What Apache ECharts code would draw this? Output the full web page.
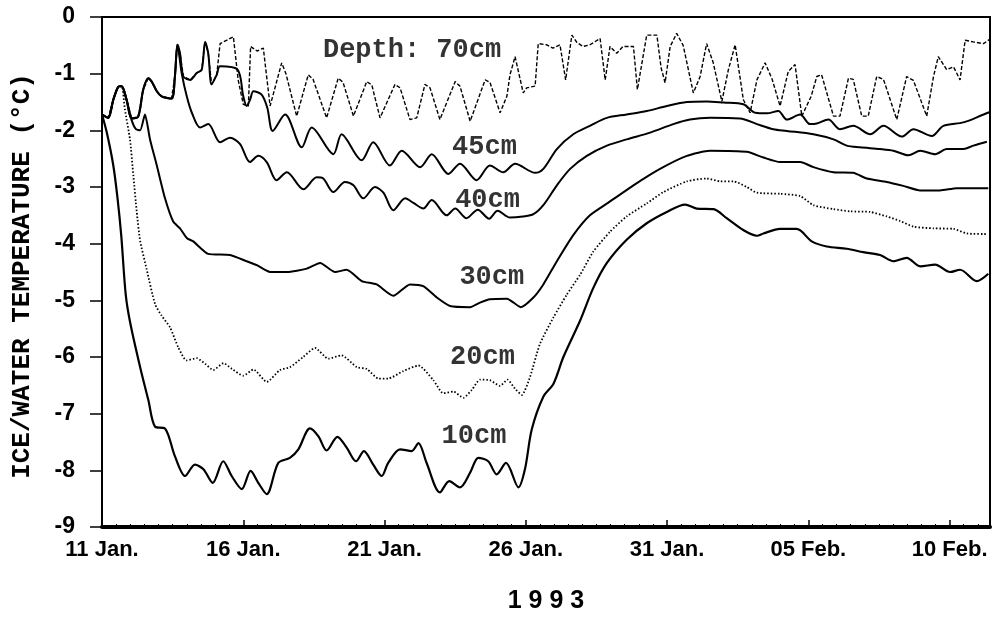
<!DOCTYPE html>
<html>
<head>
<meta charset="utf-8">
<script src="https://cdn.jsdelivr.net/npm/echarts@6/dist/echarts.min.js"></script>
<style>
html,body{margin:0;padding:0;background:#fff;}
#chart{width:997px;height:619px;}
</style>
</head>
<body>
<div id="chart"></div>
<script>
// x = days since 11 Jan 1993, y = temperature (°C)
const xTickLabels = ["11 Jan.","16 Jan.","21 Jan.","26 Jan.","31 Jan.","05 Feb.","10 Feb."];
const yTickValues = [0,-1,-2,-3,-4,-5,-6,-7,-8,-9];

const depth10 = [[0,-1.72],[0.17,-2.04],[0.4,-2.62],[0.55,-3.2],[0.68,-3.85],[0.84,-4.9],[1.0,-5.4],[1.35,-6.18],[1.64,-6.76],[1.88,-7.23],[2.23,-7.26],[2.58,-7.75],[2.94,-8.10],[3.29,-7.90],[3.59,-7.98],[3.92,-8.22],[4.29,-7.84],[4.59,-8.10],[4.95,-8.33],[5.26,-8.01],[5.53,-8.22],[5.83,-8.42],[6.24,-7.87],[6.65,-7.78],[6.95,-7.63],[7.36,-7.26],[7.66,-7.40],[7.95,-7.65],[8.33,-7.41],[8.66,-7.60],[8.99,-7.84],[9.27,-7.66],[9.60,-7.90],[9.90,-8.10],[10.13,-7.87],[10.55,-7.63],[10.96,-7.66],[11.20,-7.52],[11.49,-7.87],[11.96,-8.39],[12.29,-8.19],[12.67,-8.30],[13.03,-8.04],[13.32,-7.78],[13.67,-7.84],[13.97,-8.07],[14.30,-7.87],[14.74,-8.30],[14.97,-7.98],[15.21,-7.28],[15.62,-6.70],[15.98,-6.47],[16.33,-6.00],[16.92,-5.36],[17.39,-4.78],[17.87,-4.34],[18.57,-3.93],[19.28,-3.64],[19.99,-3.44],[20.64,-3.31],[21.05,-3.38],[21.64,-3.39],[22.11,-3.55],[22.70,-3.76],[23.18,-3.86],[23.41,-3.82],[24.0,-3.74],[24.59,-3.74],[25.12,-3.96],[25.65,-4.05],[26.36,-4.09],[26.95,-4.15],[27.54,-4.20],[28.01,-4.31],[28.48,-4.25],[28.96,-4.40],[29.49,-4.37],[30.02,-4.50],[30.37,-4.46],[30.96,-4.66],[31.37,-4.53]];

const depth20 = [[0,-1.72],[0.22,-1.78],[0.40,-1.46],[0.58,-1.23],[0.70,-1.22],[0.81,-1.63],[0.99,-2.16],[1.11,-2.8],[1.23,-3.44],[1.35,-3.95],[1.58,-4.45],[1.88,-5.07],[2.11,-5.27],[2.41,-5.48],[2.70,-5.83],[2.99,-6.06],[3.35,-6.02],[3.65,-6.12],[3.94,-6.23],[4.30,-6.11],[4.60,-6.21],[5.00,-6.33],[5.36,-6.22],[5.83,-6.44],[6.30,-6.23],[6.65,-6.18],[7.12,-6.00],[7.54,-5.84],[8.01,-6.03],[8.48,-5.97],[9.02,-6.18],[9.37,-6.21],[9.78,-6.38],[10.13,-6.38],[10.66,-6.25],[11.20,-6.15],[11.73,-6.41],[12.08,-6.64],[12.44,-6.61],[12.79,-6.72],[13.09,-6.58],[13.38,-6.40],[13.73,-6.41],[14.09,-6.51],[14.35,-6.40],[14.62,-6.56],[14.86,-6.67],[15.15,-6.35],[15.50,-5.77],[15.98,-5.30],[16.45,-4.90],[16.92,-4.55],[17.39,-4.14],[17.98,-3.79],[18.57,-3.52],[19.28,-3.29],[19.87,-3.09],[20.70,-2.90],[21.40,-2.85],[21.88,-2.90],[22.35,-2.90],[22.82,-3.00],[23.18,-3.10],[24.0,-3.12],[24.71,-3.16],[25.18,-3.32],[25.89,-3.39],[26.48,-3.43],[27.19,-3.44],[27.78,-3.52],[28.25,-3.60],[28.72,-3.70],[29.43,-3.73],[30.14,-3.74],[30.61,-3.82],[31.32,-3.83]];

const depth30 = [[0,-1.72],[0.22,-1.78],[0.40,-1.46],[0.58,-1.23],[0.70,-1.22],[0.87,-1.46],[1.05,-1.82],[1.2,-1.98],[1.35,-2.0],[1.52,-1.72],[1.70,-2.16],[1.94,-2.62],[2.23,-3.20],[2.52,-3.61],[2.76,-3.73],[3.0,-3.90],[3.23,-3.96],[3.76,-4.18],[4.53,-4.20],[5.12,-4.31],[5.48,-4.38],[5.95,-4.50],[6.54,-4.50],[7.25,-4.44],[7.72,-4.34],[8.25,-4.50],[8.66,-4.46],[9.19,-4.66],[9.72,-4.72],[10.31,-4.92],[10.90,-4.72],[11.37,-4.75],[11.85,-4.95],[12.32,-5.10],[13.03,-5.12],[13.38,-5.04],[13.73,-4.98],[14.33,-4.97],[14.82,-5.12],[15.27,-4.95],[15.62,-4.72],[16.10,-4.31],[16.68,-3.85],[17.27,-3.50],[17.91,-3.28],[18.81,-2.97],[19.75,-2.68],[20.70,-2.45],[21.52,-2.36],[22.82,-2.38],[23.41,-2.48],[24.0,-2.56],[24.71,-2.56],[25.18,-2.65],[25.89,-2.74],[26.59,-2.75],[27.07,-2.85],[27.78,-2.91],[28.36,-2.98],[28.96,-3.06],[29.66,-3.06],[30.25,-3.02],[31.37,-3.02]];

const depth40 = [[0,-1.72],[0.22,-1.78],[0.40,-1.46],[0.58,-1.23],[0.70,-1.22],[0.87,-1.46],[1.05,-1.79],[1.28,-1.76],[1.46,-1.28],[1.64,-1.08],[1.76,-1.14],[1.94,-1.31],[2.11,-1.40],[2.46,-1.44],[2.58,-1.05],[2.67,-0.49],[2.82,-0.99],[3.0,-1.40],[3.18,-1.69],[3.47,-1.95],[3.76,-1.89],[4.18,-2.21],[4.53,-2.13],[4.88,-2.24],[5.24,-2.56],[5.53,-2.45],[5.83,-2.56],[6.18,-2.88],[6.54,-2.74],[7.13,-3.04],[7.60,-2.83],[7.83,-2.85],[8.19,-3.09],[8.60,-2.91],[8.90,-2.97],[9.25,-3.20],[9.66,-3.00],[9.96,-3.10],[10.31,-3.41],[10.73,-3.20],[11.02,-3.28],[11.37,-3.38],[11.67,-3.23],[12.2,-3.50],[12.5,-3.38],[12.9,-3.55],[13.3,-3.40],[13.7,-3.56],[14.0,-3.42],[14.44,-3.54],[14.9,-3.52],[15.27,-3.48],[15.62,-3.32],[16.10,-2.97],[16.57,-2.68],[17.16,-2.45],[17.87,-2.27],[18.57,-2.16],[19.40,-2.04],[20.22,-1.89],[20.81,-1.81],[21.52,-1.78],[22.58,-1.79],[23.18,-1.89],[23.76,-1.98],[24.24,-2.01],[25.18,-2.07],[25.89,-2.16],[26.36,-2.27],[26.83,-2.30],[27.54,-2.33],[28.01,-2.36],[28.54,-2.44],[28.96,-2.36],[29.49,-2.42],[29.90,-2.33],[30.49,-2.33],[30.84,-2.27],[31.32,-2.20]];

const depth45 = [[0,-1.72],[0.22,-1.78],[0.40,-1.46],[0.58,-1.23],[0.70,-1.22],[0.87,-1.46],[1.05,-1.79],[1.28,-1.76],[1.46,-1.28],[1.64,-1.08],[1.76,-1.14],[1.94,-1.31],[2.11,-1.40],[2.46,-1.44],[2.58,-1.05],[2.67,-0.49],[2.76,-0.64],[2.88,-1.05],[3.12,-1.11],[3.35,-0.99],[3.53,-0.93],[3.65,-0.44],[3.76,-0.64],[3.88,-1.19],[4.06,-1.02],[4.18,-0.87],[4.8,-0.93],[5.0,-1.4],[5.12,-1.57],[5.24,-1.46],[5.36,-1.31],[5.65,-1.37],[5.85,-1.6],[6.04,-2.01],[6.48,-1.72],[7.07,-2.30],[7.42,-1.95],[8.19,-2.42],[8.48,-2.07],[9.19,-2.53],[9.60,-2.21],[10.19,-2.62],[10.61,-2.36],[11.26,-2.65],[11.67,-2.42],[12.26,-2.77],[12.67,-2.59],[13.26,-2.88],[13.73,-2.62],[14.2,-2.74],[14.62,-2.59],[15.33,-2.75],[15.62,-2.68],[16.10,-2.33],[16.68,-2.07],[17.27,-1.92],[17.87,-1.78],[18.57,-1.72],[19.28,-1.66],[19.99,-1.57],[20.70,-1.50],[21.40,-1.49],[22.0,-1.51],[22.7,-1.54],[23.12,-1.69],[23.53,-1.70],[23.94,-1.66],[24.24,-1.81],[24.71,-1.72],[25.06,-1.89],[25.3,-1.88],[25.71,-1.81],[26.12,-1.98],[26.59,-1.92],[27.19,-2.07],[27.66,-1.92],[28.31,-2.11],[28.72,-1.98],[29.37,-2.10],[29.78,-1.92],[30.49,-1.86],[31.2,-1.72],[31.4,-1.68]];

const depth70 = [[0,-1.72],[0.22,-1.78],[0.40,-1.46],[0.58,-1.23],[0.70,-1.22],[0.87,-1.46],[1.05,-1.79],[1.28,-1.76],[1.46,-1.28],[1.64,-1.08],[1.76,-1.14],[1.94,-1.31],[2.11,-1.40],[2.46,-1.44],[2.58,-1.05],[2.67,-0.49],[2.76,-0.64],[2.88,-1.05],[3.12,-1.11],[3.35,-0.99],[3.53,-0.93],[3.65,-0.44],[3.76,-0.64],[3.88,-1.19],[4.06,-1.02],[4.18,-0.47],[4.65,-0.35],[4.82,-1.11],[5.0,-1.54],[5.18,-1.57],[5.26,-0.52],[5.49,-0.6],[5.71,-0.55],[5.95,-1.57],[6.36,-0.81],[6.51,-1.0],[6.89,-1.75],[7.30,-1.02],[7.47,-1.1],[7.95,-1.78],[8.36,-1.08],[8.53,-1.15],[8.90,-1.75],[9.37,-1.14],[9.55,-1.2],[9.84,-1.78],[10.37,-1.19],[10.55,-1.25],[10.90,-1.81],[11.14,-1.78],[11.43,-1.19],[11.61,-1.25],[11.96,-1.81],[12.50,-1.14],[12.67,-1.22],[13.03,-1.84],[13.56,-1.11],[13.73,-1.15],[14.09,-1.69],[14.33,-1.40],[14.44,-1.02],[14.62,-0.70],[14.91,-1.34],[15.03,-1.25],[15.33,-1.22],[15.44,-0.47],[15.74,-0.49],[15.96,-0.55],[16.21,-0.49],[16.41,-1.11],[16.63,-0.32],[16.81,-0.45],[17.03,-0.52],[17.27,-0.49],[17.63,-0.38],[17.81,-1.11],[17.98,-0.52],[18.22,-0.64],[18.44,-0.52],[18.81,-0.52],[18.95,-1.28],[19.28,-0.32],[19.64,-0.32],[19.79,-0.9],[19.93,-1.16],[20.11,-0.52],[20.34,-0.29],[20.57,-0.5],[20.93,-1.34],[21.17,-1.05],[21.40,-0.47],[21.63,-0.8],[21.94,-1.49],[22.17,-0.93],[22.41,-0.49],[22.70,-1.46],[22.94,-1.69],[23.18,-1.11],[23.47,-0.81],[23.72,-1.1],[24.0,-1.57],[24.29,-0.96],[24.53,-0.84],[24.77,-1.75],[25.1,-1.4],[25.30,-1.05],[25.47,-1.02],[25.66,-1.35],[25.89,-1.75],[26.12,-1.75],[26.42,-1.08],[26.59,-1.10],[26.89,-1.75],[27.12,-1.75],[27.42,-1.05],[27.66,-1.10],[28.13,-1.81],[28.48,-1.05],[28.72,-1.12],[29.19,-1.75],[29.43,-1.05],[29.60,-0.70],[29.90,-0.93],[30.14,-0.88],[30.37,-1.11],[30.55,-0.41],[30.84,-0.44],[31.2,-0.47],[31.4,-0.4]];

// curve labels anchored at data positions: [day, temperature, text]
const curveLabels = [[7.82,-0.58,"Depth: 70cm"],[12.39,-2.29,"45cm"],[12.50,-3.23,"40cm"],[12.65,-4.59,"30cm"],[12.32,-6.0,"20cm"],[12.02,-7.40,"10cm"]];

const yTitle = "ICE/WATER TEMPERATURE (°C)";
const xTitle = "1 9 9 3";

const tickFont = "'Liberation Sans','Arial',sans-serif";
const monoFont = "'Liberation Mono','DejaVu Sans Mono',monospace";

const chart = echarts.init(document.getElementById('chart'), null, {renderer:'canvas'});

function lineSeries(name, data, style, smooth){
  return {name, type:'line', data, showSymbol:false, symbol:'none', silent:true, smooth:smooth || false,
    lineStyle:Object.assign({color:'#000', width:2}, style), z:3};
}

chart.setOption({
  animation:false,
  backgroundColor:'#fff',
  grid:{left:102, right:7, top:17, bottom:87, show:true, borderColor:'#000', borderWidth:2, backgroundColor:'transparent'},
  xAxis:{type:'value', min:0, max:31.43, interval:5,
    name:xTitle, nameLocation:'middle', nameGap:62,
    nameTextStyle:{fontFamily:tickFont, fontSize:25, fontWeight:'bold', color:'#000'},
    axisLine:{show:true, onZero:false, lineStyle:{color:'#000', width:4}},
    axisTick:{show:true, inside:true, length:7, lineStyle:{color:'#000', width:1.5}},
    minorTick:{show:true, splitNumber:10, length:3, lineStyle:{color:'#000', width:1}},
    splitLine:{show:false},
    axisLabel:{showMaxLabel:false, margin:12, color:'#000', fontFamily:tickFont, fontSize:22, fontWeight:'bold',
      formatter:v => xTickLabels[Math.round(v/5)] || ''}
  },
  yAxis:{type:'value', min:-9, max:0, interval:1,
    axisLine:{show:true, onZero:false, lineStyle:{color:'#000', width:2}},
    axisTick:{show:true, inside:false, length:12, lineStyle:{color:'#000', width:1.5}},
    splitLine:{show:false},
    axisLabel:{margin:27, color:'#000', fontFamily:tickFont, fontSize:23, fontWeight:'bold',
      formatter:v => yTickValues.indexOf(v) >= 0 ? String(v) : ''}
  },
  graphic:[{type:'text', x:22, y:276, rotation:Math.PI/2,
    style:{text:yTitle, font:"bold 26px " + monoFont, fill:'#000', align:'center', verticalAlign:'middle'}}],
  series:[
    lineSeries('70cm', depth70, {width:1.4, type:[4,2]}),
    lineSeries('45cm', depth45, {width:2}, 0.3),
    lineSeries('40cm', depth40, {width:2}, 0.3),
    lineSeries('30cm', depth30, {width:2}, 0.2),
    lineSeries('20cm', depth20, {width:1.8, type:[1.5,2]}, 0.2),
    lineSeries('10cm', depth10, {width:2.2}, 0.3),
    {type:'scatter', data:curveLabels, symbolSize:0, silent:true, z:5,
      label:{show:true, position:'right', distance:0, color:'#000', fontFamily:monoFont, fontWeight:'bold', fontSize:27,
        formatter:p => p.data[2]}}
  ]
});
</script>
</body>
</html>
